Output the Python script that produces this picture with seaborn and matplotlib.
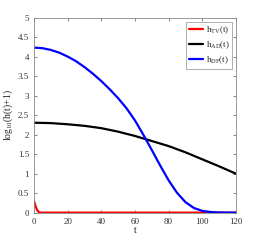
import matplotlib
matplotlib.use("Agg")
import matplotlib.pyplot as plt
import seaborn as sns
import pandas as pd

t_tv = [0, 1, 2, 3, 4, 120]
h_tv = [0.30, 0.16, 0.06, 0.01, 0.0, 0.0]

t_ad = [0, 10, 20, 30, 40, 50, 60, 70, 80, 90, 100, 110, 120]
h_ad = [2.31, 2.30, 2.27, 2.23, 2.17, 2.08, 1.97, 1.84, 1.71, 1.55, 1.37, 1.19, 1.00]

t_df = [0, 5, 10, 15, 20, 25, 30, 35, 40, 45, 50, 55, 60, 65, 70, 75, 80, 85, 90, 95, 100, 105, 110, 115, 120]
h_df = [4.24, 4.225, 4.18, 4.11, 4.01, 3.89, 3.74, 3.57, 3.38, 3.17, 2.94, 2.68, 2.37, 2.00, 1.61, 1.21, 0.83, 0.51, 0.27, 0.12, 0.045, 0.015, 0.004, 0.0, 0.0]

labels = ["h$_{TV}$(t)", "h$_{AD}$(t)", "h$_{DF}$(t)"]
colors = ["#ff0000", "#000000", "#0000ff"]

df = pd.concat([
    pd.DataFrame({"t": t_tv, "h": h_tv, "series": labels[0]}),
    pd.DataFrame({"t": t_ad, "h": h_ad, "series": labels[1]}),
    pd.DataFrame({"t": t_df, "h": h_df, "series": labels[2]}),
])

sns.set_style("ticks")
plt.rcParams["font.family"] = ["Liberation Serif", "DejaVu Serif"]
plt.rcParams["mathtext.default"] = "regular"

fig = plt.figure(figsize=(2.61, 2.40), dpi=100)
ax = fig.add_axes([0.130, 0.114, 0.774, 0.811])
sns.lineplot(data=df, x="t", y="h", hue="series", palette=dict(zip(labels, colors)),
             linewidth=1.6, ax=ax, sort=False)
ax.set_xlim(0, 120)
ax.set_ylim(0, 5)
ax.set_xticks([0, 20, 40, 60, 80, 100, 120])
ax.set_yticks([0, 0.5, 1, 1.5, 2, 2.5, 3, 3.5, 4, 4.5, 5])
ax.set_yticklabels(["0", "0.5", "1", "1.5", "2", "2.5", "3", "3.5", "4", "4.5", "5"])
ax.tick_params(direction="in", top=True, right=True, labelsize=6.5, length=2.5, width=0.5, colors="#555555", labelcolor="#333333")
for s in ax.spines.values():
    s.set_linewidth(0.6)
    s.set_color("#888888")
ax.set_xlabel("t", fontsize=7, labelpad=0)
ax.set_ylabel("log$_{10}$(h(t)+1)", fontsize=7, labelpad=2)
leg = ax.legend(loc="upper right", fontsize=6.5, frameon=True, fancybox=False,
                edgecolor="#888888", handlelength=1.6, handletextpad=0.3,
                borderpad=0.3, labelspacing=0.4, borderaxespad=0.4)
leg.get_frame().set_linewidth(0.6)
fig.savefig("out.png", dpi=100)
